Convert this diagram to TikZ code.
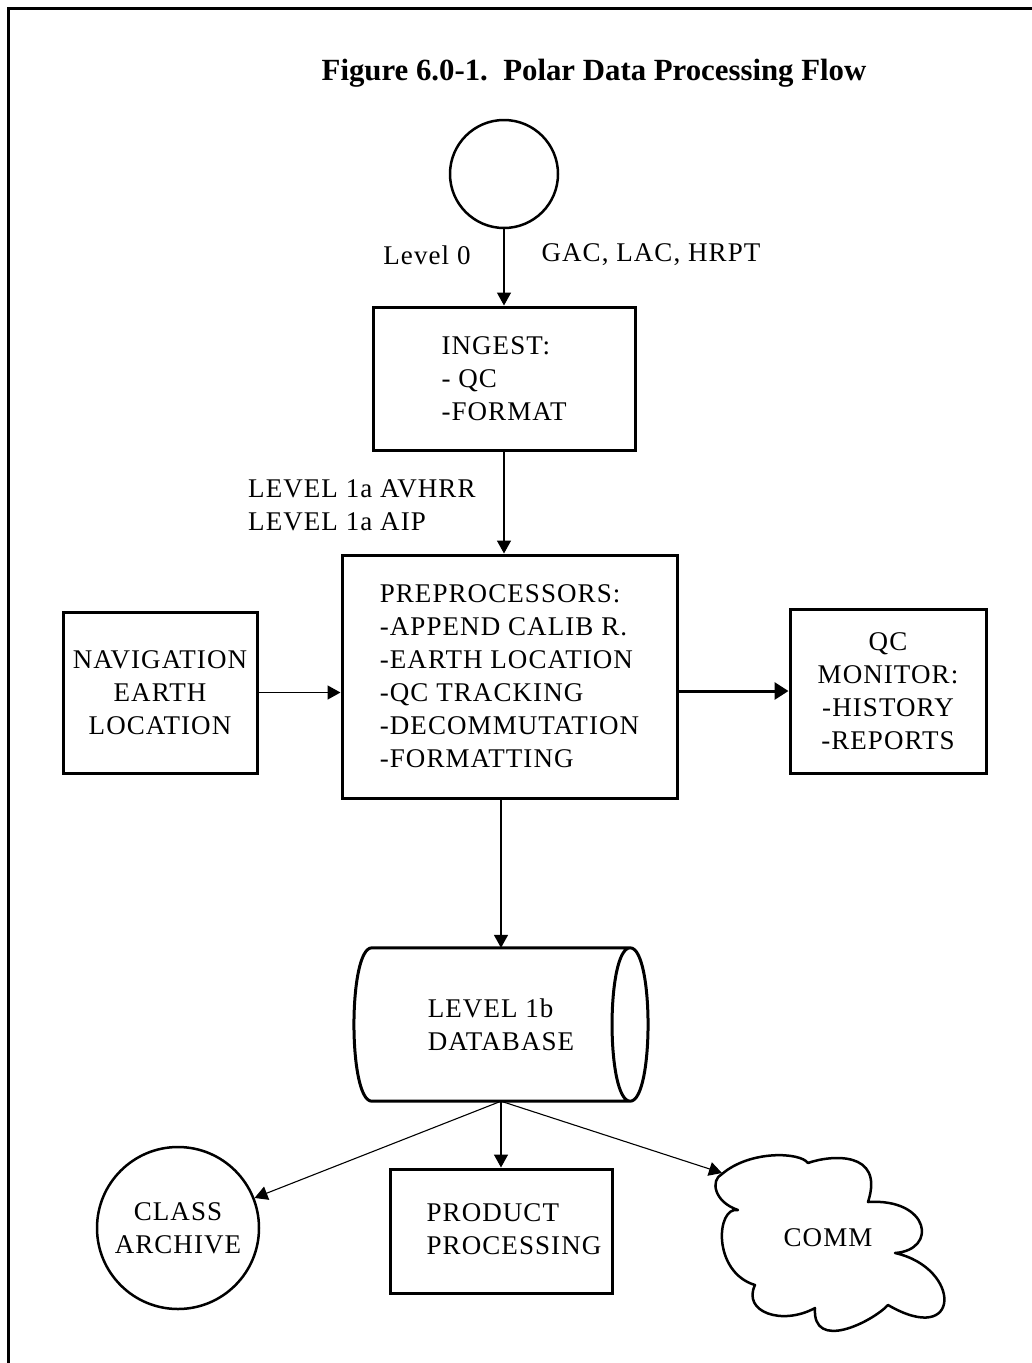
\documentclass[tikz,border=0pt]{standalone}
\usepackage{fontspec}
\setmainfont{Liberation Serif}[LetterSpace=4]
\newfontfamily\titlefont{Liberation Serif}
\usetikzlibrary{arrows.meta}
\begin{document}
\begin{tikzpicture}[x=1pt,y=-1pt,
  txt/.style={font=\fontsize{27}{33}\selectfont, inner sep=0pt},
  box/.style={draw, line width=3pt, font=\fontsize{27}{33}\selectfont, inner sep=0pt},
  arr/.style={-{Triangle[length=13pt,width=14pt]}, line width=1.5pt},
  thinarr/.style={-{Triangle[length=13pt,width=14pt]}, line width=1.1pt},
  thickarr/.style={-{Triangle[length=14pt,width=17pt]}, line width=3pt},
  rnd/.style={draw, circle, line width=2.5pt, inner sep=0pt, font=\fontsize{27}{33}\selectfont}
]
\useasboundingbox (0,0) rectangle (1032,1363);
\fill[white] (0,0) rectangle (1032,1363);
% frame
\draw[line width=3.5pt] (8.5,1363) -- (8.5,8.5) -- (1032,8.5);

% title
\node[inner sep=0pt, font=\titlefont\fontsize{30.8}{36}\selectfont\bfseries] (title) at (594,73) {Figure 6.0-1.\ \ Polar Data Processing Flow};

% top circle
\node[rnd, minimum size=108pt] (topc) at (504,174) {};
\node[txt] (lvl0) at (427,255) {Level 0};
\node[txt] (gac) at (651,255) {GAC, LAC, HRPT};

% ingest
\node[box, minimum width=262pt, minimum height=143pt, align=left] (ingest) at (504,378.5) {INGEST:\\- QC\\-FORMAT};

% level 1a labels
\node[txt, anchor=west, align=left] (lvl1a) at (248,505) {LEVEL 1a AVHRR\\LEVEL 1a AIP};

% preprocessors
\node[box, minimum width=335pt, minimum height=243pt, align=left] (preproc) at (509.5,676.5) {PREPROCESSORS:\\-APPEND CALIB R.\\-EARTH LOCATION\\-QC TRACKING\\-DECOMMUTATION\\-FORMATTING};

% navigation
\node[box, minimum width=194pt, minimum height=161pt, align=center] (nav) at (160,692.5) {NAVIGATION\\EARTH\\LOCATION};

% qc monitor
\node[box, minimum width=196pt, minimum height=164pt, align=center] (qc) at (888,691) {QC\\MONITOR:\\-HISTORY\\-REPORTS};

% database
\node[txt, minimum width=258pt, minimum height=153pt, align=left] (db) at (501,1024.5) {LEVEL 1b\\DATABASE};
\draw[line width=3pt, line join=round]
  (db.north west) -- (db.north east)
  (db.south west) -- (db.south east)
  (db.north west) .. controls (348,948) and (348,1101) .. (db.south west)
  (db.north east) .. controls (654,948) and (654,1101) .. (db.south east)
                  .. controls (606,1101) and (606,948) .. (db.north east);

% product processing
\node[box, minimum width=222pt, minimum height=124pt] (product) at (501,1231) {};
\node[txt, align=left] (prodtxt) at (514,1229) {PRODUCT\\PROCESSING};

% class archive
\node[rnd, minimum size=162pt, align=center] (class) at (178,1228) {CLASS\\ARCHIVE};

% comm cloud
\draw[line width=2.5pt, line join=round]
  (722,1174) .. controls (750,1150) and (800,1152) .. (808,1163)
  .. controls (830,1155) and (885,1150) .. (868,1202)
  .. controls (930,1198) and (938,1250) .. (895,1253)
  .. controls (962,1268) and (962,1348) .. (888,1305)
  .. controls (872,1322) and (812,1352) .. (815,1308)
  .. controls (782,1326) and (742,1312) .. (755,1285)
  .. controls (712,1272) and (716,1206) .. (738,1210)
  .. controls (714,1202) and (710,1180) .. (722,1174) -- cycle;
\node[txt] (comm) at (828,1238) {COMM};
\coordinate (commtip) at (722,1173);

% connectors
\draw[arr] (topc.south) -- (ingest.north);
\draw[arr] (ingest.south) -- (ingest.south |- preproc.north);
\draw[arr] (nav.east) -- (nav.east -| preproc.west);
\draw[thickarr] (preproc.east |- qc.west) -- (qc.west);
\draw[arr] (db.north |- preproc.south) -- (db.north);
\draw[arr] (db.south) -- (product.north);
\draw[thinarr] (db.south) -- (class);
\draw[thinarr] (db.south) -- (commtip);
\end{tikzpicture}
\end{document}
